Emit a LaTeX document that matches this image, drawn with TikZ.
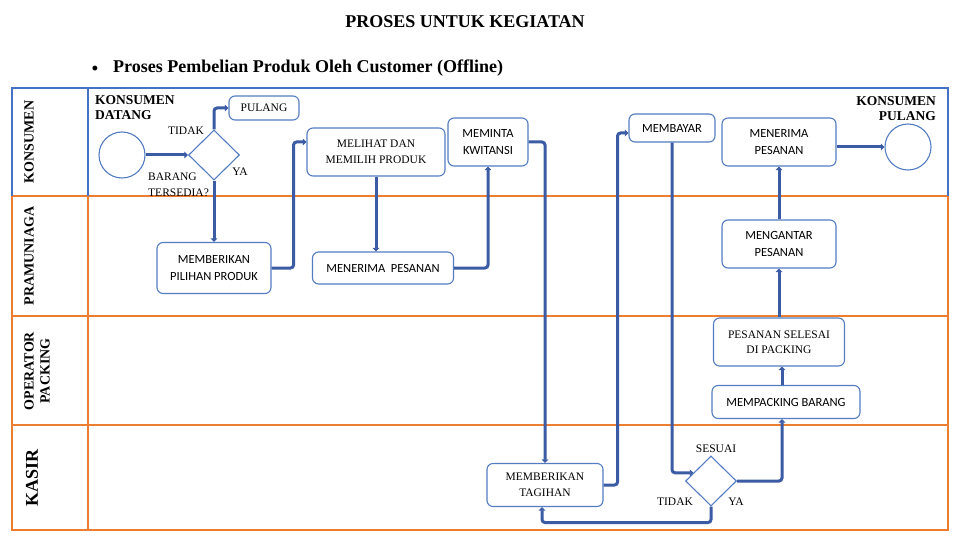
\documentclass[tikz,border=0pt]{standalone}
\usepackage{fontspec}
\setmainfont{Liberation Serif}
\newfontfamily\carlito{Carlito}
\usepackage{tikz}
\usetikzlibrary{shapes.geometric,arrows.meta}
\definecolor{laneblue}{RGB}{68,114,196}
\definecolor{laneorange}{RGB}{237,125,49}
\definecolor{flowblue}{RGB}{59,91,165}
\definecolor{boxblue}{RGB}{84,124,194}
\newcommand{\sansbox}{\carlito\fontsize{12.5}{17}\selectfont}
\newcommand{\serifbox}{\fontsize{11.5}{15.5}\selectfont}

\begin{document}
\begin{tikzpicture}[x=1pt,y=-1pt,
	box/.style={draw=boxblue,line width=1.1pt,rounded corners=6pt,align=center,inner sep=0pt,fill=white},
	ring/.style={draw=boxblue,line width=1.1pt,circle,minimum size=46pt,inner sep=0pt},
	choice/.style={draw=boxblue,line width=1.1pt,diamond,minimum width=51pt,minimum height=50pt,inner sep=0pt},
	flow/.style={draw=flowblue,line width=3pt,rounded corners=3pt,-{Triangle[length=3.5pt,width=6.5pt]}},
	lbl/.style={font=\serifbox,inner sep=0pt},
	lane/.style={font=\bfseries\fontsize{14}{15}\selectfont,rotate=90,align=center,inner sep=0pt}]
	\useasboundingbox (0,0) rectangle (960,540);
	
	\coordinate (p_start) at (122,155);
	\coordinate (p_cek) at (214,155);
	\coordinate (p_pulang) at (264,108);
	\coordinate (p_pilihan) at (214,268);
	\coordinate (p_melihat) at (376,152);
	\coordinate (p_terima1) at (383,268);
	\coordinate (p_kwitansi) at (488,142);
	\coordinate (p_tagihan) at (545,485);
	\coordinate (p_bayar) at (672,128);
	\coordinate (p_sesuai) at (711,481);
	\coordinate (p_packing) at (786,402);
	\coordinate (p_selesai) at (779,342);
	\coordinate (p_antar) at (779,244);
	\coordinate (p_terima2) at (779,142);
	\coordinate (p_finish) at (908,147);
	\coordinate (col_pack) at (782,0);
	
	% lanes
	\draw[laneorange,line width=1.6pt] (12,196) rectangle (948,530);
	\draw[laneorange,line width=1.6pt] (12,316) -- (948,316) (12,425) -- (948,425) (88,196) -- (88,530);
	\draw[laneblue,line width=1.6pt] (12,196) -- (12,88) -- (948,88) -- (948,196) (88,88) -- (88,196);
	
	\node[lane] (lane_konsumen) at (29,142) {KONSUMEN};
	\node[lane] (lane_pramuniaga) at (29,256) {PRAMUNIAGA};
	\node[lane,font=\bfseries\fontsize{14}{16}\selectfont] (lane_operator) at (37,371) {OPERATOR\\PACKING};
	\node[lane,font=\bfseries\fontsize{18}{19}\selectfont] (lane_kasir) at (32,478) {KASIR};
	
	\node[font=\bfseries\fontsize{18}{20}\selectfont,inner sep=0pt,anchor=base] (title) at (465,28) {PROSES UNTUK KEGIATAN};
	\node[font=\bfseries\fontsize{18}{20}\selectfont,inner sep=0pt] (dot) at (95,70) {\textbullet};
	\node[font=\bfseries\fontsize{18}{20}\selectfont,inner sep=0pt,anchor=base west] (subtitle) at (113,73) {Proses Pembelian Produk Oleh Customer (Offline)};
	
	\node[ring] (start) at (p_start) {};
	\node[choice] (cek) at (p_cek) {};
	\node[box,font=\serifbox,minimum width=70pt,minimum height=24pt] (pulang) at (p_pulang) {PULANG};
	\node[box,font=\sansbox,minimum width=114pt,minimum height=51pt] (pilihan) at (p_pilihan) {MEMBERIKAN\\PILIHAN PRODUK};
	\node[box,font=\serifbox,minimum width=138pt,minimum height=48pt] (melihat) at (p_melihat) {MELIHAT DAN\\MEMILIH PRODUK};
	\node[box,font=\sansbox,minimum width=141pt,minimum height=32pt] (terima1) at (p_terima1) {MENERIMA\ \ PESANAN};
	\node[box,font=\sansbox,minimum width=80pt,minimum height=48pt] (kwitansi) at (p_kwitansi) {MEMINTA\\KWITANSI};
	\node[box,font=\serifbox,minimum width=116pt,minimum height=43pt] (tagihan) at (p_tagihan) {MEMBERIKAN\\TAGIHAN};
	\node[box,font=\sansbox,minimum width=86pt,minimum height=28pt] (bayar) at (p_bayar) {MEMBAYAR};
	\node[choice] (sesuai) at (p_sesuai) {};
	\node[box,font=\sansbox,minimum width=148pt,minimum height=33pt] (packing) at (p_packing) {MEMPACKING BARANG};
	\node[box,font=\serifbox,minimum width=131pt,minimum height=48pt] (selesai) at (p_selesai) {PESANAN SELESAI\\DI PACKING};
	\node[box,font=\sansbox,minimum width=114pt,minimum height=48pt] (antar) at (p_antar) {MENGANTAR\\PESANAN};
	\node[box,font=\sansbox,minimum width=114pt,minimum height=48pt] (terima2) at (p_terima2) {MENERIMA\\PESANAN};
	\node[ring] (finish) at (p_finish) {};
	
	\node[lbl,font=\bfseries\fontsize{13.5}{15}\selectfont,anchor=north west,align=left] (datang) at (95,95) {KONSUMEN\\DATANG};
	\node[lbl,font=\bfseries\fontsize{13.5}{15}\selectfont,anchor=north east,align=right] (pulang_lbl) at (936,96) {KONSUMEN\\PULANG};
	\node[lbl,anchor=north west,align=left] (tersedia) at (148,173) {BARANG\\TERSEDIA?};
	\node[lbl] (tidak1) at (186,131) {TIDAK};
	\node[lbl] (ya1) at (240,172) {YA};
	\node[lbl] (sesuai_lbl) at (716,449) {SESUAI};
	\node[lbl] (tidak2) at (675,502) {TIDAK};
	\node[lbl] (ya2) at (736,502) {YA};
	
	\draw[flow] (start) -- (cek);
	\draw[flow] (cek.north) |- (pulang.west);
	\draw[flow] (cek.south) -- (pilihan.north);
	\draw[flow] (pilihan.east) -- ++(22,0) |- ([yshift=10pt]melihat.west);
	\draw[flow] (melihat.south) -- (melihat.south |- terima1.north);
	\draw[flow] (terima1.east) -| (kwitansi.south);
	\draw[flow] (kwitansi.east) -| (tagihan.north);
	\draw[flow] (tagihan.east) -- ++(14,0) |- ([yshift=-5pt]bayar.west);
	\draw[flow] (bayar.south) |- (sesuai.155);
	\draw[flow] (sesuai.east) -| (col_pack |- packing.south);
	\draw[flow] (sesuai.south) -- ++(0,16) -| ([xshift=-3pt]tagihan.south);
	\draw[flow] (col_pack |- packing.north) -- (col_pack |- selesai.south);
	\draw[flow] (selesai.north) -- (antar.south);
	\draw[flow] (antar.north) -- (terima2.south);
	\draw[flow] (terima2.east |- finish) -- (finish);
\end{tikzpicture}
\end{document}
